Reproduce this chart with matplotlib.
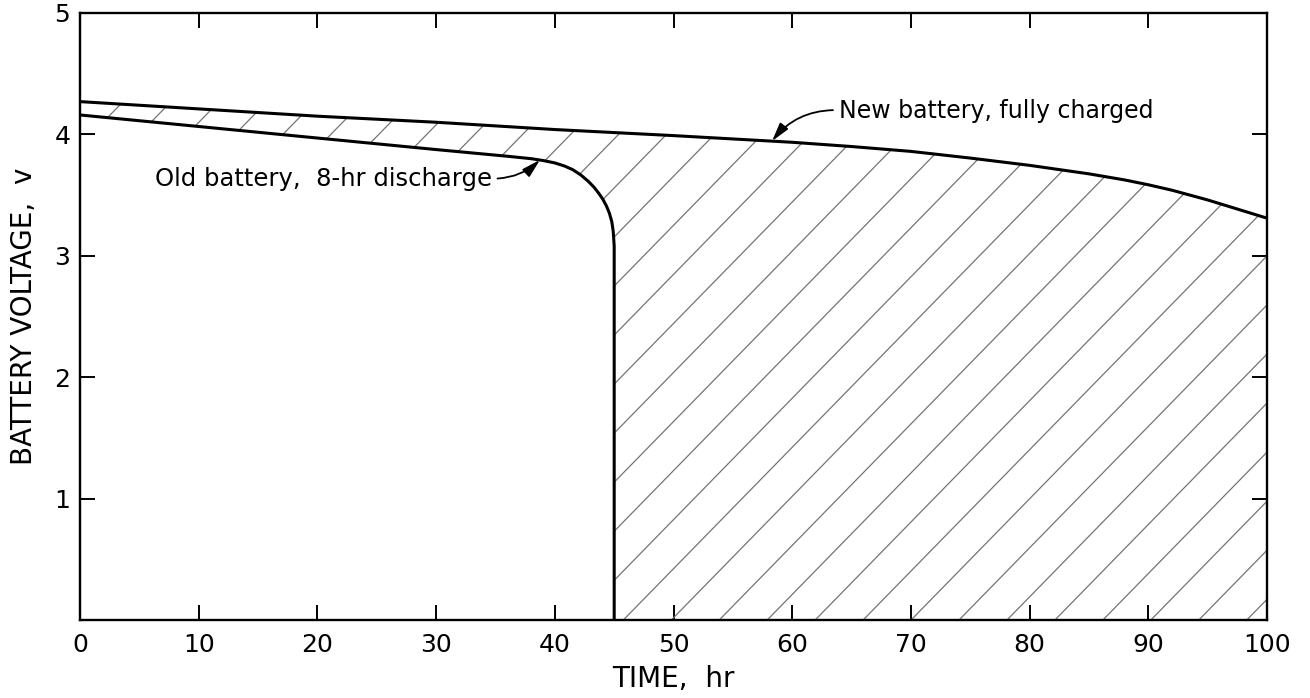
import numpy as np
import matplotlib
matplotlib.use("Agg")
import matplotlib.pyplot as plt
from matplotlib.patches import Polygon

# Discharge curves: time (hr) vs terminal voltage (v)
new_t = [0, 10, 20, 30, 40, 50, 60, 65, 70, 75, 80, 85, 88, 90, 92, 95, 97, 100]
new_v = [4.27, 4.21, 4.15, 4.10, 4.04, 3.99, 3.935, 3.90, 3.86, 3.805, 3.745, 3.675,
         3.625, 3.585, 3.54, 3.46, 3.40, 3.31]

old_t = [0, 10, 20, 30, 36, 38, 39, 40, 40.8, 41.5, 42.2, 42.8, 43.3, 43.7,
         44.05, 44.35, 44.6, 44.8, 44.92, 45.0, 45.0]
old_v = [4.16, 4.065, 3.97, 3.875, 3.82, 3.80, 3.785, 3.765, 3.74, 3.71, 3.665, 3.615,
         3.565, 3.515, 3.465, 3.41, 3.35, 3.28, 3.20, 3.08, 0.0]

x_ticks = [0, 10, 20, 30, 40, 50, 60, 70, 80, 90, 100]
y_ticks = [1, 2, 3, 4, 5]

new_label = "New battery, fully charged"
old_label = "Old battery,  8-hr discharge"

plt.rcParams["font.family"] = ["DejaVu Sans"]

fig = plt.figure(figsize=(13.1, 6.98), dpi=100)
ax = fig.add_axes([0.0611, 0.1117, 0.9061, 0.8697])
ax.set_xlim(0, 100)
ax.set_ylim(0, 5)

# Region between the two curves, hatched with thin diagonal lines
poly_xy = list(zip(new_t, new_v)) + [(100, 0), (45, 0)] + list(zip(old_t[::-1], old_v[::-1]))[1:]
region = Polygon(poly_xy, closed=True, facecolor="none", edgecolor="none")
ax.add_patch(region)

hatch_slope = 0.1      # v per hr
hatch_step = 4.04      # hr between neighbouring lines
hatch_phase = 1.33
t_line = np.array([-60.0, 160.0])
for k in range(-20, 30):
    t0 = hatch_phase + k * hatch_step
    ln, = ax.plot(t_line, hatch_slope * (t_line - t0), color="#747474", lw=0.9,
                  solid_capstyle="butt", zorder=2)
    ln.set_clip_path(region)

ax.plot(new_t, new_v, color="black", lw=2.2, zorder=3, solid_joinstyle="round")
ax.plot(old_t, old_v, color="black", lw=2.2, zorder=3, solid_joinstyle="round")

arrow_kw = dict(arrowstyle="-|>,head_length=0.8,head_width=0.22", color="black",
                lw=1.3, mutation_scale=14, shrinkA=2, shrinkB=0)
ax.annotate(new_label, xy=(58.3, 3.945), xytext=(63.9, 4.19), ha="left", va="center",
            fontsize=17,
            arrowprops=dict(connectionstyle="arc3,rad=0.25", relpos=(0, 0.55), **arrow_kw))
ax.annotate(old_label, xy=(38.75, 3.79), xytext=(34.7, 3.635), ha="right", va="center",
            fontsize=17.5,
            arrowprops=dict(connectionstyle="arc3,rad=0.2", relpos=(1, 0.5), **arrow_kw))

ax.set_xticks(x_ticks)
ax.set_xticklabels([str(v) for v in x_ticks])
ax.set_yticks(y_ticks)
ax.set_yticklabels([str(v) for v in y_ticks])
ax.tick_params(axis="both", direction="in", length=11, width=1.4, labelsize=18,
               top=True, right=True, color="black")
ax.tick_params(axis="x", pad=9)
ax.tick_params(axis="y", pad=7)
for s in ax.spines.values():
    s.set_linewidth(1.7)

ax.set_xlabel("TIME,  hr", fontsize=20, labelpad=6)
ax.set_ylabel("BATTERY VOLTAGE,  v", fontsize=20, labelpad=12)

fig.savefig("out.png", dpi=100, facecolor="white")
